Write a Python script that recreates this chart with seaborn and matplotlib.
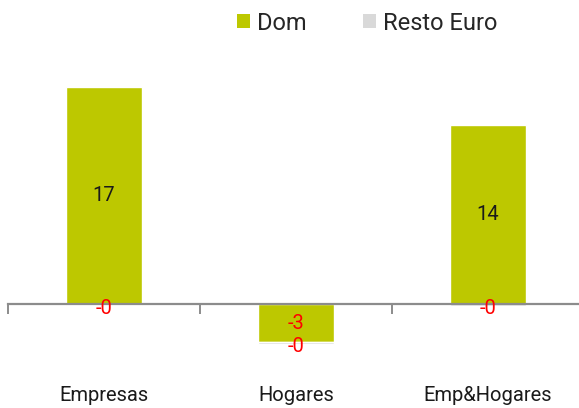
import matplotlib
matplotlib.use("Agg")
import matplotlib.pyplot as plt
from matplotlib.patches import Patch
import matplotlib.transforms as mtransforms
import seaborn as sns
import pandas as pd

categories = ["Empresas", "Hogares", "Emp&Hogares"]
dom = [17, -3, 14]
resto_euro = [-0.1, -0.1, -0.15]
series_names = ["Dom", "Resto Euro"]

DOM_COLOR = "#BDC800"
RESTO_COLOR = "#D9D9D9"
AXIS_GRAY = "#8C8C8C"

sns.set_theme(style="white")
plt.rcParams["font.family"] = ["Roboto", "DejaVu Sans"]

fig = plt.figure(figsize=(5.79, 4.08), dpi=100)
# axes spans from one category boundary beyond the right edge of the figure
ax = fig.add_axes([8 / 579, 1 - 380.6 / 408, 576 / 579, (380.6 - 48.8) / 408])

df = pd.DataFrame({"cat": categories, "dom": dom, "resto": resto_euro})
# Negative Resto Euro stacks below the negative Dom part, otherwise from zero
resto_base = [d if d < 0 else 0 for d in dom]

sns.barplot(data=df, x="cat", y="dom", color=DOM_COLOR, saturation=1,
            width=0.4, ax=ax, errorbar=None)
sns.barplot(data=df, x="cat", y="resto", color=RESTO_COLOR, saturation=1,
            width=0.4, ax=ax, errorbar=None, bottom=resto_base)

ax.set_xlim(-0.5, 2.5)
ax.set_ylim(-6, 20)
ax.set_xlabel("")
ax.set_ylabel("")
ax.set_yticks([])

for s in ["top", "right", "left"]:
    ax.spines[s].set_visible(False)
ax.spines["bottom"].set_position(("data", 0))
ax.spines["bottom"].set_color(AXIS_GRAY)
ax.spines["bottom"].set_linewidth(1.6)

ax.set_xticks([0, 1, 2])
ax.set_xticklabels([])
ax.tick_params(axis="x", which="major", length=0)
ax.set_xticks([-0.5, 0.5, 1.5, 2.5], minor=True)
ax.tick_params(axis="x", which="minor", direction="out", length=7,
               width=1.4, color=AXIS_GRAY, bottom=True)

# category labels sit under the plot area
trans = mtransforms.blended_transform_factory(ax.transData, ax.transAxes)
for i, c in enumerate(categories):
    ax.text(i, -0.045, c, transform=trans, ha="center", va="center",
            fontsize=14.5, color="#1a1a1a")

# value labels centred in each segment, negatives in red
for k, cont in enumerate(ax.containers):
    texts = ax.bar_label(cont, fmt="%.0f", label_type="center", fontsize=14.5)
    for t, bar in zip(texts, cont):
        val = bar.get_height()
        t.set_color("#FF0000" if val < 0 else "#1a1a1a")
        if k == 1:
            t.xyann = (0, -2.5)

handles = [Patch(facecolor=DOM_COLOR, edgecolor="none"),
           Patch(facecolor=RESTO_COLOR, edgecolor="none")]
fig.legend(handles, series_names, loc="center", bbox_to_anchor=(367 / 579, 1 - 23 / 408),
           ncol=2, frameon=False, fontsize=17, handlelength=0.55, handleheight=0.55,
           handletextpad=0.3, columnspacing=2.4)

fig.savefig("out.png", dpi=100)
